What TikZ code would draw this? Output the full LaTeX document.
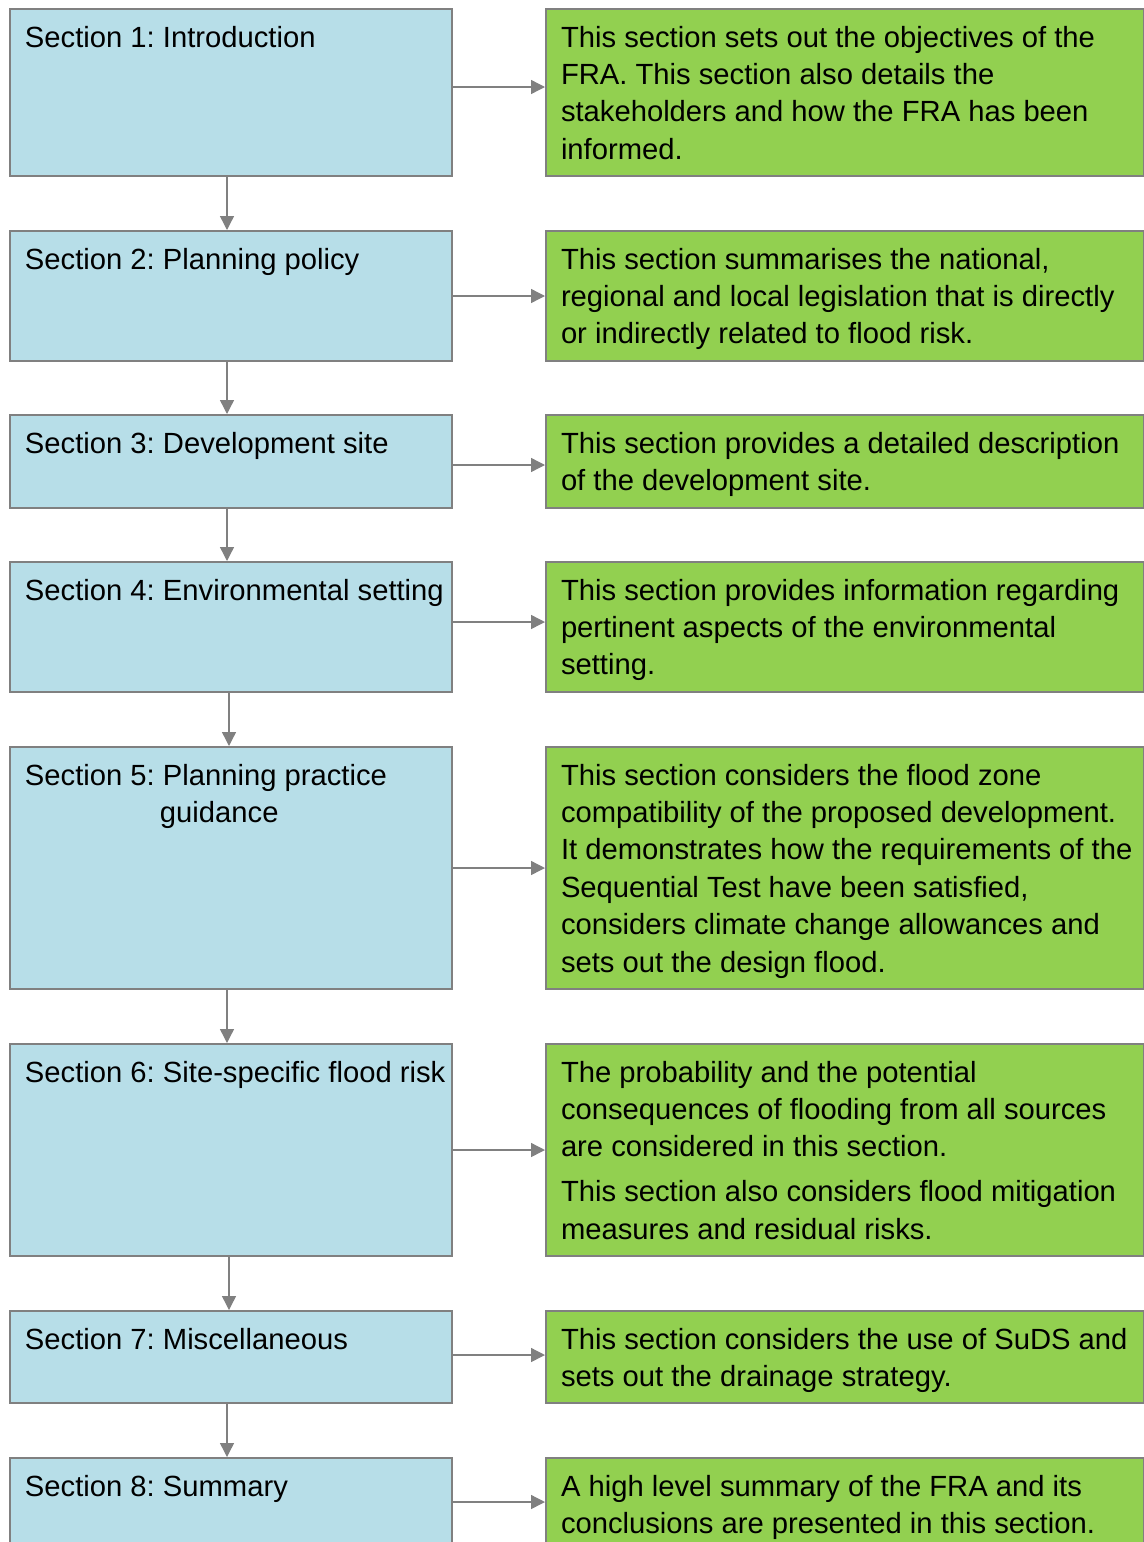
\documentclass[tikz,border=0pt]{standalone}
\usepackage{fontspec}
\setmainfont{Liberation Sans}
\usetikzlibrary{arrows.meta}

\definecolor{sectionblue}{RGB}{183, 222, 232}
\definecolor{summarygreen}{RGB}{146, 208, 80}
\definecolor{framegrey}{RGB}{128, 128, 128}

% text set from the top left corner of a box of given height and width
\newcommand{\boxtext}[3]{\hspace*{7.5pt}\parbox[t][#1][t]{#2}{\raggedright\frenchspacing\rule{0pt}{19pt}#3}}

\begin{document}
\begin{tikzpicture}[x=0.5pt, y=-0.5pt, font=\fontsize{14.6pt}{18.7pt}\selectfont,
    sectionbox/.style={draw=framegrey, line width=1pt, fill=sectionblue, anchor=north west, inner sep=0pt},
    summarybox/.style={sectionbox, fill=summarygreen},
    flow/.style={draw=framegrey, line width=0.7pt, -{Triangle[length=7pt, width=7pt]}}]

            \useasboundingbox (0,0) rectangle (1144,1542);

            \node[sectionbox] (s1) at (9,8) {\boxtext{83.5pt}{213.5pt}{Section 1: Introduction}};
            \node[sectionbox] (s2) at (9,230) {\boxtext{65pt}{213.5pt}{Section 2: Planning policy}};
            \node[sectionbox] (s3) at (9,414) {\boxtext{46.5pt}{213.5pt}{Section 3: Development site}};
            \node[sectionbox] (s4) at (9,561) {\boxtext{65pt}{213.5pt}{Section 4: Environmental setting}};
            \node[sectionbox] (s5) at (9,746) {\boxtext{121pt}{213.5pt}{Section 5: Planning practice\\\hspace*{67.5pt}guidance}};
            \node[sectionbox] (s6) at (9,1043) {\boxtext{106pt}{213.5pt}{Section 6: Site-specific flood risk}};
            \node[sectionbox] (s7) at (9,1310) {\boxtext{46pt}{213.5pt}{Section 7: Miscellaneous}};
            \node[sectionbox] (s8) at (9,1457) {\boxtext{44pt}{213.5pt}{Section 8: Summary}};

            \node[summarybox] (d1) at (545,8) {\boxtext{83.5pt}{291.5pt}{This section sets out the objectives of the\\FRA. This section also details the\\stakeholders and how the FRA has been\\informed.}};
            \node[summarybox] (d2) at (545,230) {\boxtext{65pt}{291.5pt}{This section summarises the national,\\regional and local legislation that is directly\\or indirectly related to flood risk.}};
            \node[summarybox] (d3) at (545,414) {\boxtext{46.5pt}{291.5pt}{This section provides a detailed description\\of the development site.}};
            \node[summarybox] (d4) at (545,561) {\boxtext{65pt}{291.5pt}{This section provides information regarding\\pertinent aspects of the environmental\\setting.}};
            \node[summarybox] (d5) at (545,746) {\boxtext{121pt}{291.5pt}{This section considers the flood zone\\compatibility of the proposed development.\\It demonstrates how the requirements of the\\Sequential Test have been satisfied,\\considers climate change allowances and\\sets out the design flood.}};
            \node[summarybox] (d6) at (545,1043) {\boxtext{106pt}{291.5pt}{The probability and the potential\\consequences of flooding from all sources\\are considered in this section.\\[3.8pt]This section also considers flood mitigation\\measures and residual risks.}};
            \node[summarybox] (d7) at (545,1310) {\boxtext{46pt}{291.5pt}{This section considers the use of SuDS and\\sets out the drainage strategy.}};
            \node[summarybox] (d8) at (545,1457) {\boxtext{44pt}{291.5pt}{A high level summary of the FRA and its\\conclusions are presented in this section.}};

            % across to the summaries
            \draw[flow] ([yshift=2.75pt]s1.east) -- ([yshift=2.75pt]d1.west);
            \draw[flow] (s2.east) -- (d2.west);
            \draw[flow] ([yshift=-1.75pt]s3.east) -- ([yshift=-1.75pt]d3.west);
            \draw[flow] ([yshift=2.5pt]s4.east) -- ([yshift=2.5pt]d4.west);
            \draw[flow] (s5.east) -- (d5.west);
            \draw[flow] (s6.east) -- (d6.west);
            \draw[flow] ([yshift=1pt]s7.east) -- ([yshift=1pt]d7.west);
            \draw[flow] (s8.east) -- (d8.west);

            % down the sections
            \draw[flow] ([xshift=-2pt]s1.south) -- ([xshift=-2pt]s2.north);
            \draw[flow] ([xshift=-2pt]s2.south) -- ([xshift=-2pt]s3.north);
            \draw[flow] ([xshift=-2pt]s3.south) -- ([xshift=-2pt]s4.north);
            \draw[flow] ([xshift=-1pt]s4.south) -- ([xshift=-1pt]s5.north);
            \draw[flow] ([xshift=-2pt]s5.south) -- ([xshift=-2pt]s6.north);
            \draw[flow] ([xshift=-1pt]s6.south) -- ([xshift=-1pt]s7.north);
            \draw[flow] ([xshift=-2pt]s7.south) -- ([xshift=-2pt]s8.north);

        \end{tikzpicture}
\end{document}
